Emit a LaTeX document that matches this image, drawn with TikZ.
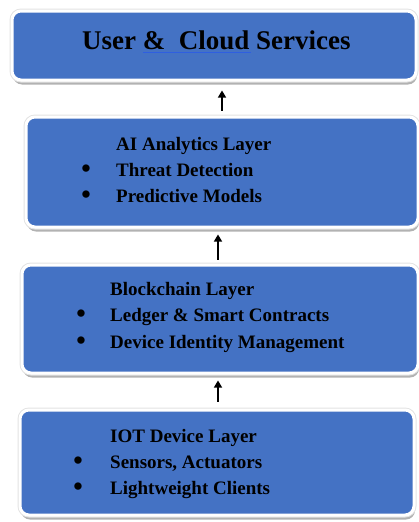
\documentclass[tikz,border=0pt]{standalone}
\usepackage{fontspec}
\setmainfont{Liberation Serif}
\usetikzlibrary{shadows,arrows.meta}
\definecolor{layerblue}{HTML}{4472C4}
\definecolor{linkblue}{HTML}{2F5FE0}
\begin{document}
\begin{tikzpicture}[x=1pt,y={(0pt,-1pt)},
  layer/.style={rectangle, rounded corners=9pt, fill=layerblue, draw=white, line width=3pt, inner sep=0pt,
    drop shadow={shadow xshift=1pt, shadow yshift=-4.5pt, opacity=1, fill=gray!60},
    preaction={draw=gray!22, line width=5pt}},
  ttl/.style={anchor=base west, inner sep=0pt, font=\fontsize{27}{32}\selectfont\bfseries},
  txt/.style={anchor=base west, inner sep=0pt, font=\fontsize{19}{23}\selectfont\bfseries},
  bul/.style={anchor=center, inner sep=0pt, font=\fontsize{27}{30}\selectfont\bfseries},
  arr/.style={draw=black, line width=1.4pt, -{Triangle[length=7pt,width=8pt]}}]
\useasboundingbox (0,0) rectangle (419,522);
\clip (0,0) rectangle (419,522);

\node[layer, minimum width=404pt, minimum height=69pt] (b1) at (214,45.5) {};
\node[layer, minimum width=392pt, minimum height=110pt] (b2) at (222,172) {};
\node[layer, minimum width=396pt, minimum height=108pt] (b3) at (220,319) {};
\node[layer, minimum width=394pt, minimum height=105pt] (b4) at (217,462.5) {};

% box 1
\node[ttl] (t1) at (82,49) {User \&\ \ Cloud Services};
\draw[linkblue, line width=0.9pt] (143,52.5) -- (251,52.5);

% box 2
\node[txt] (t2a) at (116,150) {AI Analytics Layer};
\node[bul] (u2b) at (86,171) {•};
\node[txt] (t2b) at (116,176) {Threat Detection};
\node[bul] (u2c) at (86,197) {•};
\node[txt] (t2c) at (116,202) {Predictive Models};

% box 3
\node[txt] (t3a) at (110,295) {Blockchain Layer};
\node[bul] (u3b) at (81,316) {•};
\node[txt] (t3b) at (110,321) {Ledger \& Smart Contracts};
\node[bul] (u3c) at (81,343) {•};
\node[txt] (t3c) at (110,348) {Device Identity Management};

% box 4
\node[txt] (t4a) at (110,442) {IOT Device Layer};
\node[bul] (u4b) at (78,463) {•};
\node[txt] (t4b) at (110,468) {Sensors, Actuators};
\node[bul] (u4c) at (78,489) {•};
\node[txt] (t4c) at (110,494) {Lightweight Clients};

% arrows
\draw[arr] ([yshift=5pt]b2.north) -- ([xshift=8pt,yshift=-9pt]b1.south);
\draw[arr] ([xshift=-2pt,yshift=4pt]b3.north) -- ([xshift=-4pt,yshift=-6pt]b2.south);
\draw[arr] ([xshift=1pt,yshift=7pt]b4.north) -- ([xshift=-2pt,yshift=-6pt]b3.south);
\end{tikzpicture}
\end{document}
